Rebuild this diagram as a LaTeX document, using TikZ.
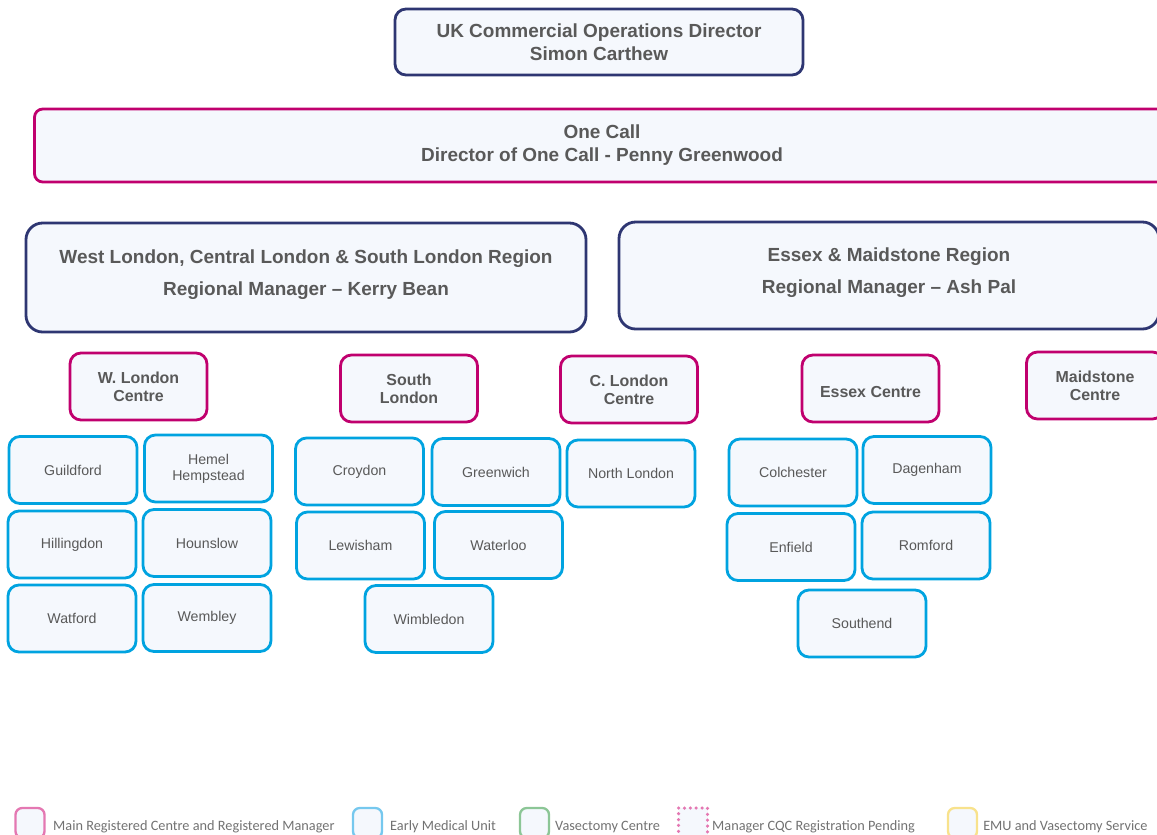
\documentclass[tikz,border=0pt]{standalone}
\usepackage{fontspec}
\setmainfont{Liberation Sans}
\newfontfamily\keyfont{Carlito}
\usetikzlibrary{positioning}

\definecolor{navy}{RGB}{46,54,114}
\definecolor{plum}{RGB}{192,0,110}
\definecolor{sky}{RGB}{0,163,224}
\definecolor{paleblue}{RGB}{245,248,253}
\definecolor{textgrey}{RGB}{89,89,89}
\definecolor{keypink}{RGB}{228,120,178}
\definecolor{keysky}{RGB}{118,200,238}
\definecolor{keygreen}{RGB}{140,198,150}
\definecolor{keyyellow}{RGB}{248,226,140}

\begin{document}
\begin{tikzpicture}[x=0.03cm, y=-0.03cm]
    \tikzstyle{box} = [rectangle, rounded corners=0.33cm, line width=2.4pt, fill=paleblue, text=textgrey, align=center, inner sep=0pt]
    \tikzstyle{head} = [box, font=\fontsize{16.2}{19.6}\selectfont\bfseries]
    \tikzstyle{region} = [box, draw=navy, rounded corners=0.5cm, text depth=0.3cm, font=\fontsize{16.2}{27.2}\selectfont\bfseries]
    \tikzstyle{centre} = [box, draw=plum, minimum width=4.11cm, minimum height=2.01cm, font=\fontsize{13.6}{15.3}\selectfont\bfseries]
    \tikzstyle{emu} = [box, draw=sky, minimum width=3.84cm, minimum height=2.01cm, font=\fontsize{12.1}{13.6}\selectfont]
    \tikzstyle{key} = [rectangle, rounded corners=0.2cm, line width=2pt, fill=paleblue, minimum width=0.87cm, minimum height=0.9cm, inner sep=0pt]
    \tikzstyle{keytext} = [anchor=west, inner sep=0pt, text=textgrey!85, font=\keyfont\fontsize{12.2}{14}\selectfont]

    \path[use as bounding box, clip] (0,0) rectangle (1157,834);

    % top levels
    \node (director) [head, draw=navy, minimum width=12.24cm, minimum height=1.98cm] at (599,42) {UK Commercial Operations Director\\Simon Carthew};
    \node (onecall) [head, draw=plum, rounded corners=0.25cm, minimum width=34.05cm, minimum height=2.19cm] at (602,145.5) {One Call\\Director of One Call - Penny Greenwood};

    % regions
    \node (west) [region, minimum width=16.8cm, minimum height=3.27cm] at (306,277.5) {West London, Central London \& South London Region\\Regional Manager -- Kerry Bean};
    \node (essex) [region, minimum width=16.2cm, minimum height=3.21cm] at (889,275.5) {Essex \& Maidstone Region\\Regional Manager -- Ash Pal};

    % centres
    \node (wlondon) [centre] at (138.5,386.5) {W. London\\Centre};
    \node (slondon) [centre] at (409,388.5) {South\\London};
    \node (clondon) [centre] at (629,389.5) {C. London\\Centre};
    \node (essexc) [centre, text height=0.56cm] at (870.5,388.5) {Essex Centre};
    \node (maidstone) [centre] at (1095,385.5) {Maidstone\\Centre};

    % early medical units
    \node (guildford) [emu] at (73,470) {Guildford};
    \node (hemel) [emu] at (208.5,468.5) {Hemel\\Hempstead};
    \node (hillingdon) [emu] at (72,544.5) {Hillingdon};
    \node (hounslow) [emu] at (207,543) {Hounslow};
    \node (watford) [emu] at (72,618.5) {Watford};
    \node (wembley) [emu] at (207,618) {Wembley};

    \node (croydon) [emu] at (359.5,471.5) {Croydon};
    \node (greenwich) [emu] at (496,472) {Greenwich};
    \node (lewisham) [emu] at (360.5,545.5) {Lewisham};
    \node (waterloo) [emu] at (498.5,545) {Waterloo};
    \node (wimbledon) [emu] at (429,619) {Wimbledon};

    \node (nlondon) [emu] at (631,473.5) {North London};

    \node (colchester) [emu] at (793,472.5) {Colchester};
    \node (dagenham) [emu] at (927,470) {Dagenham};
    \node (enfield) [emu] at (791,547) {Enfield};
    \node (romford) [emu] at (926,545.5) {Romford};
    \node (southend) [emu] at (862,623.5) {Southend};

    % key
    \node (keyMain) [key, draw=keypink] at (30,823) {};
    \node (keyMainTxt) [keytext] at (53,826.5) {Main Registered Centre and Registered Manager};
    \node (keyEmu) [key, draw=keysky] at (367.5,823) {};
    \node (keyEmuTxt) [keytext] at (390,826.5) {Early Medical Unit};
    \node (keyVas) [key, draw=keygreen] at (534.5,823) {};
    \node (keyVasTxt) [keytext] at (555,826.5) {Vasectomy Centre};
    \node (keyPend) [key, draw=keypink, line width=3pt, dash pattern=on 0pt off 5pt, line cap=round, rounded corners=0pt] at (693,823) {};
    \node (keyPendTxt) [keytext] at (712,826.5) {Manager CQC Registration Pending};
    \node (keyBoth) [key, draw=keyyellow] at (962.5,823) {};
    \node (keyBothTxt) [keytext] at (983,826.5) {EMU and Vasectomy Service};
\end{tikzpicture}
\end{document}
